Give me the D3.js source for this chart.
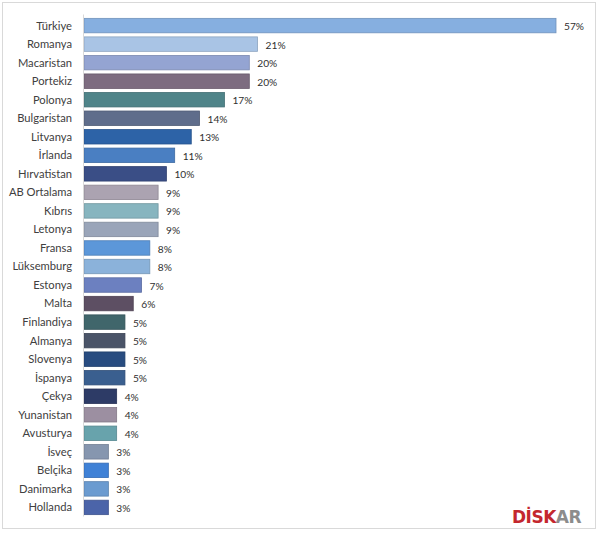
<!DOCTYPE html>
<html><head><meta charset="utf-8">
<script src="https://cdn.jsdelivr.net/npm/d3@7"></script>
<style>body{margin:0;background:#fff}svg{display:block}</style>
</head><body>
<svg id="c" width="600" height="533"></svg>
<script>
const categories = ["Türkiye","Romanya","Macaristan","Portekiz","Polonya","Bulgaristan","Litvanya","İrlanda","Hırvatistan","AB Ortalama","Kıbrıs","Letonya","Fransa","Lüksemburg","Estonya","Malta","Finlandiya","Almanya","Slovenya","İspanya","Çekya","Yunanistan","Avusturya","İsveç","Belçika","Danimarka","Hollanda"];
const values = [57,21,20,20,17,14,13,11,10,9,9,9,8,8,7,6,5,5,5,5,4,4,4,3,3,3,3];
const colors = ["#86AFE0","#A9C4E5","#94A4D2","#7D6C80","#4F8489","#5F6D8B","#2D63A7","#4A7FC2","#3A4E86","#ABA3B1","#87B5BF","#9AA5B9","#5C97D9","#8BB2DA","#6C80C0","#5D4F63","#40666B","#4A5468","#284C80","#3A5F8F","#2D3B66","#9C8FA1","#68A3AC","#8696AF","#3F81D6","#6B9BD0","#4B64A9"];

const svg = d3.select("#c");
svg.append("rect").attr("x",2.5).attr("y",2.5).attr("width",593).attr("height",526)
  .attr("fill","#fff").attr("stroke","#d9d9d9").attr("stroke-width",1);

const x0 = 83.5;
const x = d3.scaleLinear().domain([0,57]).range([x0, 556]);
const y = d3.scaleBand().domain(categories).range([16.5, 516.5]).paddingInner(0.22).paddingOuter(0.1);

const g = svg.append("g");
g.selectAll("rect.bar").data(categories).join("rect")
  .attr("class","bar")
  .attr("x", x0 + 0.5)
  .attr("y", d => y(d))
  .attr("width", (d,i) => x(values[i]) - x0 - 0.5)
  .attr("height", y.bandwidth())
  .attr("fill", (d,i) => colors[i])
  .attr("stroke", (d,i) => d3.color(colors[i]).darker(0.5))
  .attr("stroke-width", 0.8);

g.append("line").attr("x1",x0).attr("x2",x0).attr("y1",y.range()[0]-2).attr("y2",y.range()[1])
  .attr("stroke","#d9d9d9").attr("stroke-width",1);

g.selectAll("text.cat").data(categories).join("text")
  .attr("class","cat")
  .attr("x", 72)
  .attr("y", d => y(d) + y.bandwidth()/2)
  .attr("dy","0.35em")
  .attr("text-anchor","end")
  .attr("font-family","Lato, 'Noto Sans', sans-serif")
  .attr("font-size", 11.2)
  .attr("fill","#404040")
  .text(d => d);

g.selectAll("text.val").data(categories).join("text")
  .attr("class","val")
  .attr("x", (d,i) => x(values[i]) + 8)
  .attr("y", d => y(d) + y.bandwidth()/2 + 1)
  .attr("dy","0.35em")
  .attr("font-family","Lato, 'Noto Sans', sans-serif")
  .attr("font-size", 10.2)
  .attr("fill","#303030")
  .text((d,i) => values[i] + "%");

const logo = svg.append("text").attr("x",512).attr("y",523)
  .attr("font-family","'DejaVu Sans', sans-serif").attr("font-weight","bold").attr("font-size",17)
  .attr("letter-spacing",-0.5);
logo.append("tspan").attr("fill","#C4272E").text("DİSK");
logo.append("tspan").attr("fill","#8C8C8C").text("AR");
</script>
</body></html>
